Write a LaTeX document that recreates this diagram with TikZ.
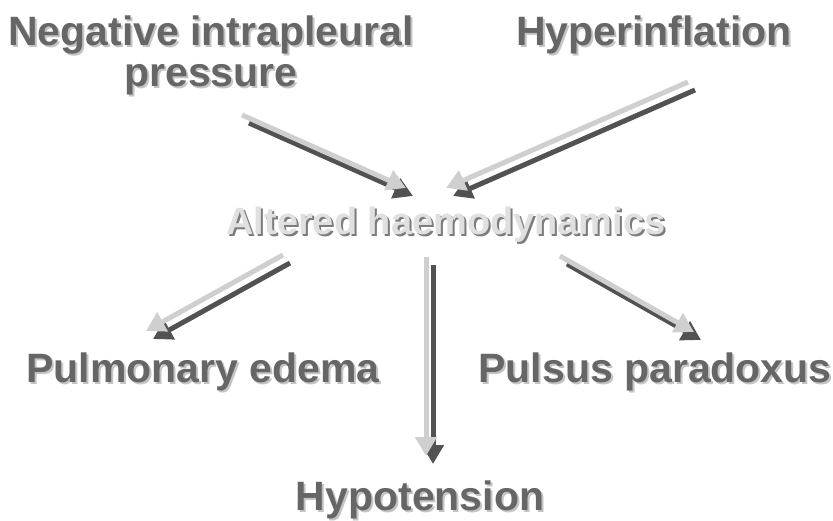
\documentclass[tikz,border=0pt]{standalone}
\usepackage{fontspec}
\setmainfont{Liberation Sans}
\usetikzlibrary{arrows.meta}
\definecolor{txt}{HTML}{666666}
\definecolor{txtsh}{HTML}{C4C4C4}
\definecolor{lite}{HTML}{CFCFCF}
\definecolor{dark}{HTML}{525252}
\definecolor{alt}{HTML}{E0E0E0}
\definecolor{altsh}{HTML}{7C7C7C}
\newcommand{\shtx}[3]{\makebox[0pt][l]{\hspace{2pt}\raisebox{-2pt}{\textcolor{#2}{#1}}}\textcolor{#3}{#1}}
\begin{document}
\begin{tikzpicture}[x=1pt,y=-1pt,
  lbl/.style={font=\fontsize{41}{41}\selectfont\bfseries, inner sep=0pt, anchor=base, align=center},
  lightarr/.style={draw=lite, line width=5pt, -{Triangle[width=21pt,length=19pt]}},
  darkarr/.style={draw=dark, line width=5pt, -{Triangle[width=21pt,length=19pt]}, transform canvas={shift={(7pt,-8pt)}}}]
\useasboundingbox[fill=white] (0,0) rectangle (833,521);

\node[lbl] (neg) at (211,87) {\shtx{Negative intrapleural}{txtsh}{txt}\\\shtx{pressure}{txtsh}{txt}};
\node[lbl] (hyp) at (654,46) {\shtx{Hyperinflation}{txtsh}{txt}};
\node[lbl, font=\fontsize{38}{38}\selectfont\bfseries] (alt) at (446,235) {\shtx{Altered haemodynamics}{altsh}{alt}};
\node[lbl] (pul) at (203,382) {\shtx{Pulmonary edema}{txtsh}{txt}};
\node[lbl] (pp) at (655,382) {\shtx{Pulsus paradoxus}{txtsh}{txt}};
\node[lbl] (hypo) at (420,510) {\shtx{Hypotension}{txtsh}{txt}};

\coordinate (a1s) at (242,115); \coordinate (a1e) at (406,188);
\coordinate (a2s) at (688,82);  \coordinate (a2e) at (446,188);
\coordinate (a3s) at (283,255); \coordinate (a3e) at (146,331);
\coordinate (a4s) at (426,257); \coordinate (a4e) at (426,456);
\coordinate (a5s) at (560,256); \coordinate (a5e) at (694,332);

\foreach \s/\e in {a1s/a1e,a2s/a2e,a3s/a3e,a4s/a4e,a5s/a5e}{
  \draw[darkarr] (\s) -- (\e);
  \draw[lightarr] (\s) -- (\e);
}
\end{tikzpicture}
\end{document}
